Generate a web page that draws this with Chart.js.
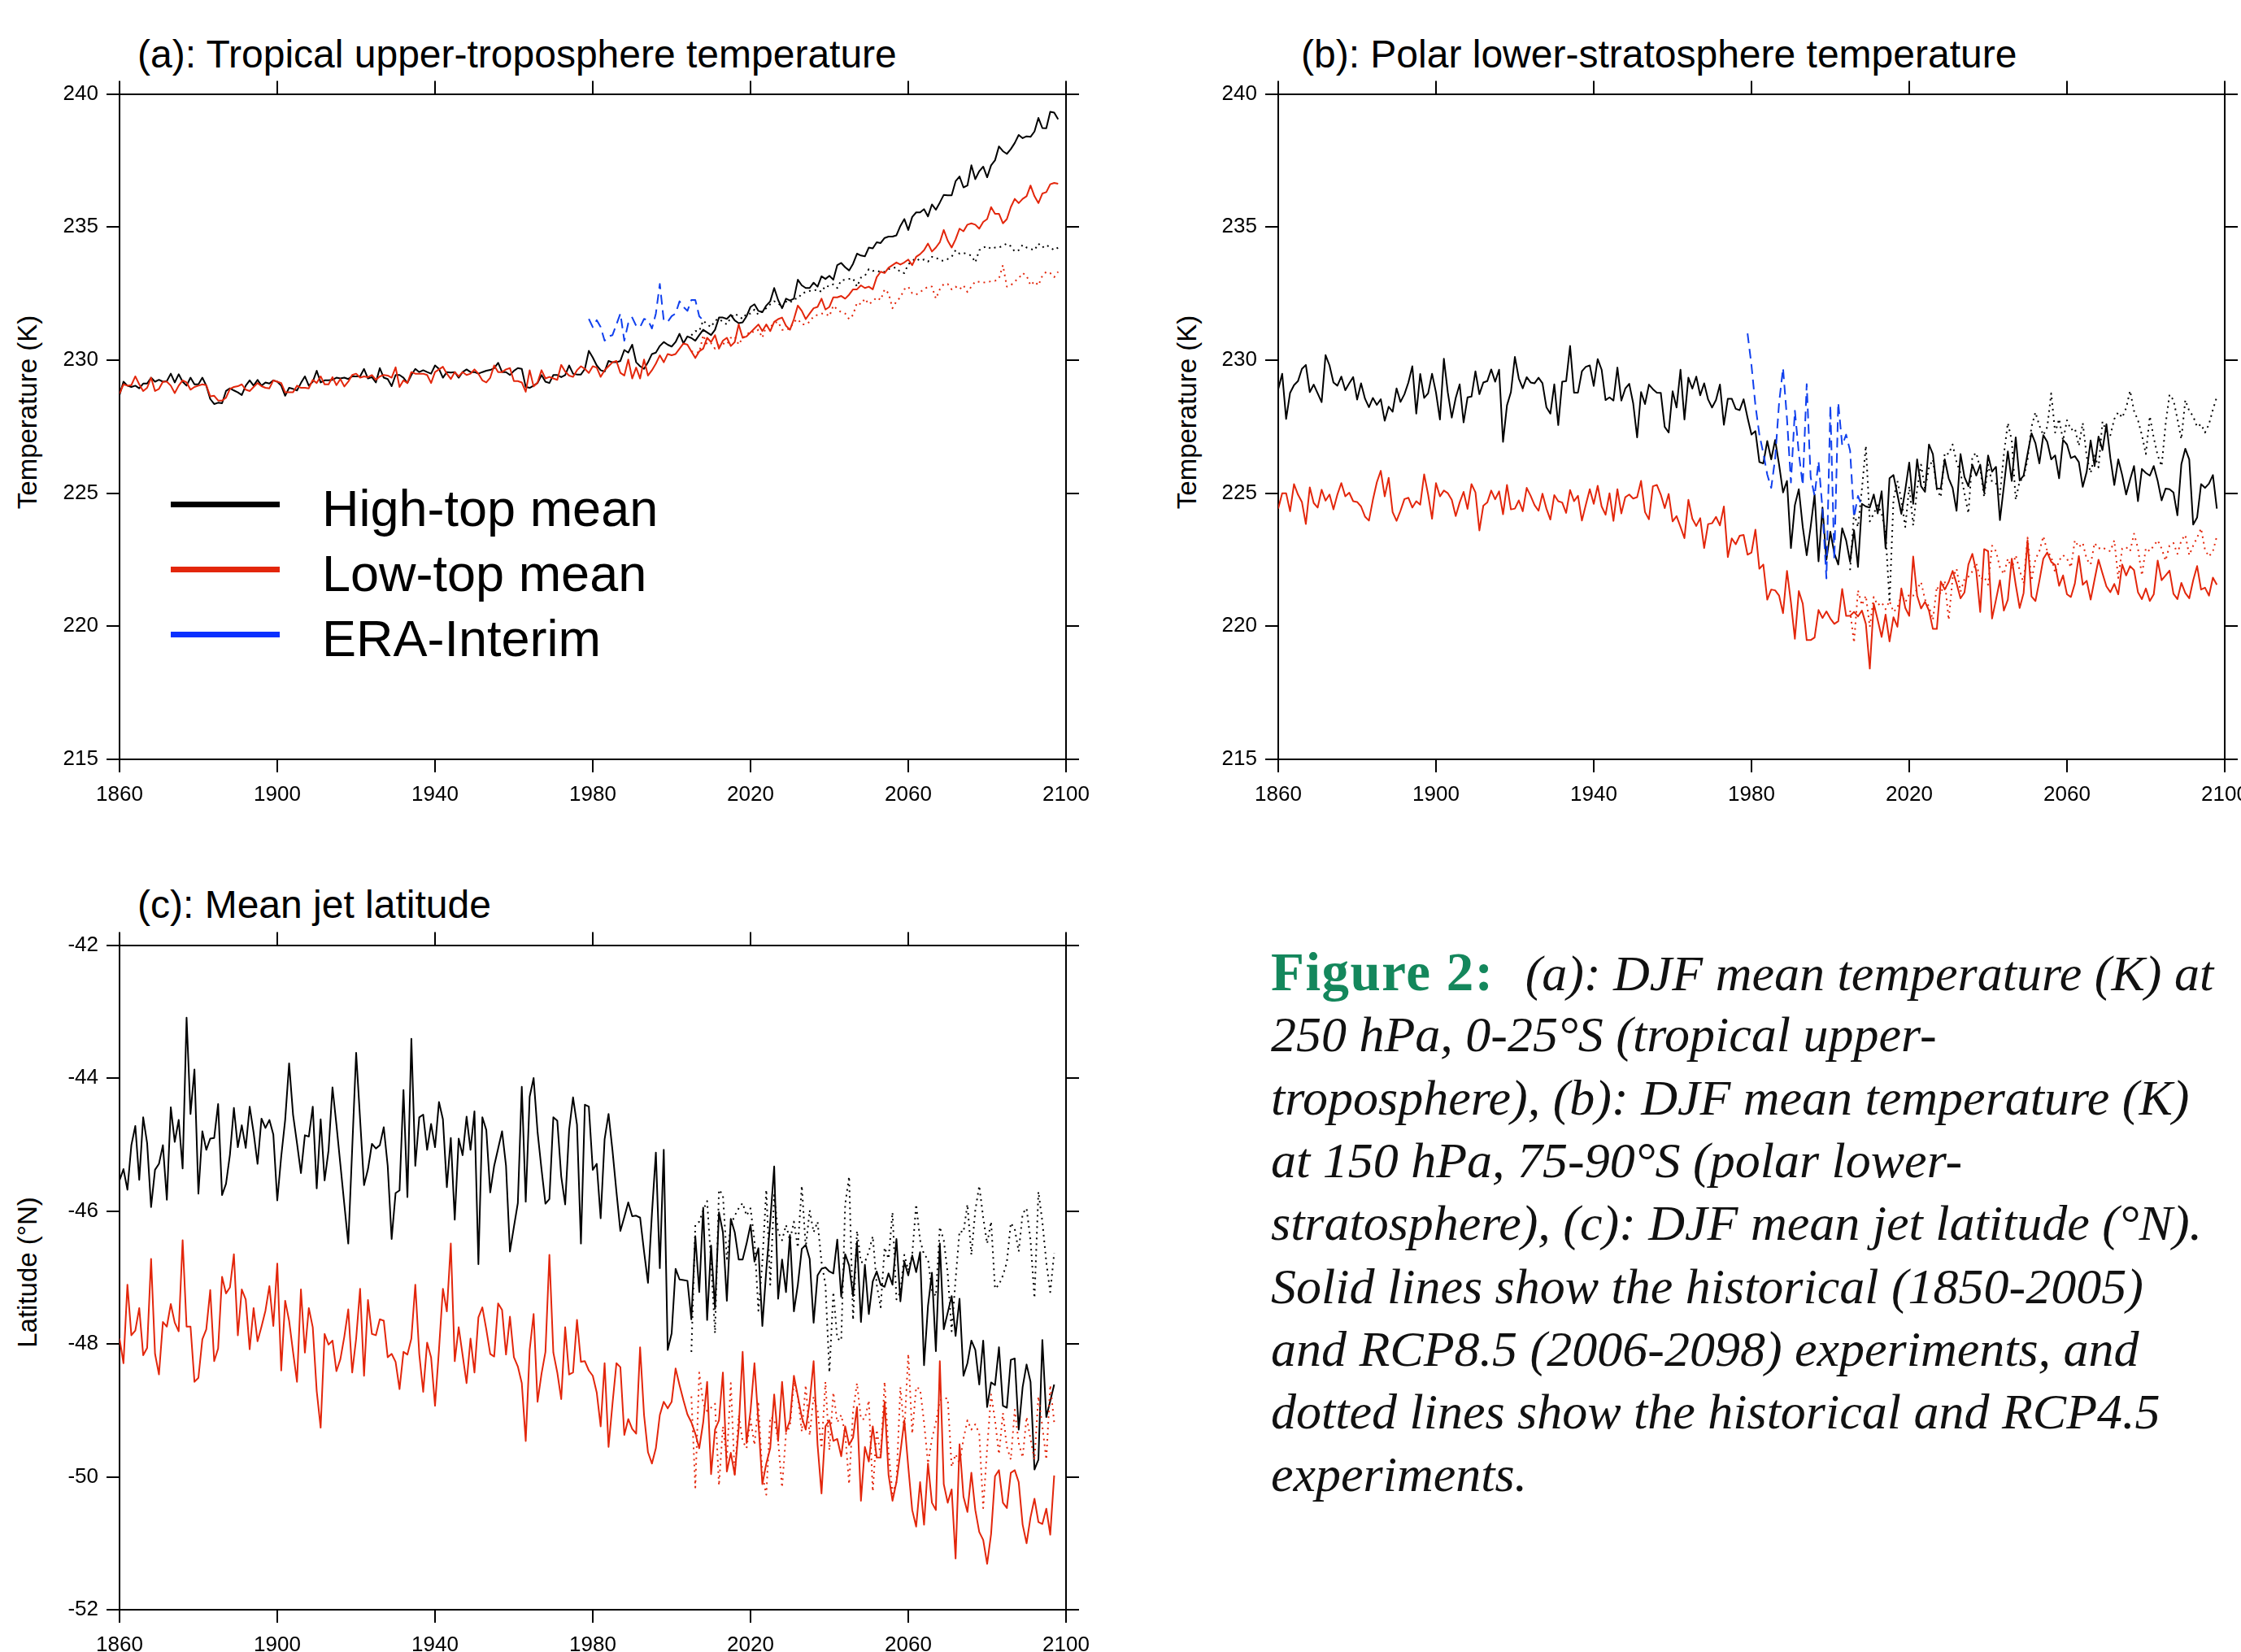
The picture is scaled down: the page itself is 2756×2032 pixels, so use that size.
<!DOCTYPE html>
<html>
<head>
<meta charset="utf-8">
<script src="https://cdn.jsdelivr.net/npm/chart.js@4.4.1/dist/chart.umd.min.js"></script>
<style>
  html, body { margin: 0; padding: 0; background: #fff; }
  body { width: 2756px; height: 2032px; position: relative; overflow: hidden;
         font-family: "Liberation Sans", Arial, Helvetica, sans-serif; color: #000; }
  canvas { position: absolute; }
  .title { position: absolute; font-size: 48px; line-height: 48px; white-space: nowrap; }
  .ytitle { position: absolute; font-size: 33px; line-height: 33px; white-space: nowrap;
            transform: translate(-50%, -50%) rotate(-90deg); }
  .lgbar { position: absolute; height: 7px; width: 134px; }
  .lgtext { position: absolute; font-size: 63px; line-height: 63px; white-space: nowrap; }
  .cap { position: absolute; left: 1563px; font-family: "Liberation Serif", "Times New Roman", serif;
         font-style: italic; font-size: 62px; line-height: 77px; white-space: nowrap; color: #111; }
  .fig { font-style: normal; font-weight: bold; color: #14875c; font-size: 67px; letter-spacing: 1.5px; margin-right: 38px; }
</style>
</head>
<body>

<div class="title" style="left:169px; top:43px">(a): Tropical upper-troposphere temperature</div>
<div class="title" style="left:1600px; top:43px">(b): Polar lower-stratosphere temperature</div>
<div class="title" style="left:169px; top:1089px">(c): Mean jet latitude</div>

<div class="ytitle" style="left:33px; top:507px">Temperature (K)</div>
<div class="ytitle" style="left:1459px; top:507px">Temperature (K)</div>
<div class="ytitle" style="left:33px; top:1565px">Latitude (°N)</div>

<canvas id="chartA" width="1340" height="920" style="left:60px; top:90px"></canvas>
<canvas id="chartB" width="1370" height="920" style="left:1420px; top:90px"></canvas>
<canvas id="chartC" width="1340" height="900" style="left:60px; top:1137px"></canvas>

<div id="legend"></div>
<div id="caption"></div>

<script>
// ---- axes ----
const xRange = [1860, 2100];
const xStep = 40;
const tempRange = [215, 240];
const tempStep = 5;
const latRange = [-52, -42];
const latStep = 2;

// ---- (a) tropical upper troposphere, 250 hPa (K) ----
// solid: historical + RCP8.5, 1860-2098
const highTopA = [
  228.69, 229.19, 229.04, 228.99, 229.04, 228.94, 229.12, 229.12, 229.34, 229.19,
  229.26, 229.19, 229.21, 229.49, 229.16, 229.47, 229.19, 229.04, 229.34, 229.09,
  229.09, 229.34, 229.04, 228.54, 228.35, 228.40, 228.38, 228.84, 228.94, 228.86,
  228.79, 228.69, 229.04, 229.24, 229.04, 229.26, 229.04, 229.16, 229.12, 229.24,
  229.19, 229.04, 228.66, 228.96, 228.92, 228.86, 229.14, 229.39, 229.04, 229.19,
  229.60, 229.16, 229.24, 229.24, 229.26, 229.34, 229.31, 229.34, 229.29, 229.39,
  229.39, 229.39, 229.67, 229.31, 229.36, 229.16, 229.70, 229.34, 229.29, 229.02,
  229.44, 229.44, 229.34, 229.14, 229.44, 229.67, 229.55, 229.62, 229.55, 229.49,
  229.80, 229.67, 229.34, 229.55, 229.53, 229.55, 229.34, 229.55, 229.65, 229.55,
  229.55, 229.49, 229.55, 229.60, 229.63, 229.70, 229.90, 229.55, 229.55, 229.44,
  229.60, 229.70, 229.67, 228.99, 228.96, 229.04, 229.14, 229.44, 229.19, 229.14,
  229.44, 229.44, 229.36, 229.44, 229.80, 229.49, 229.46, 229.46, 229.67, 230.35,
  230.10, 229.80, 229.62, 229.57, 229.97, 229.92, 229.92, 229.97, 230.38, 230.28,
  230.58, 229.92, 229.77, 229.67, 229.92, 230.23, 230.28, 230.53, 230.68, 230.58,
  230.51, 230.68, 230.99, 230.63, 230.89, 230.83, 230.73, 230.94, 231.14, 231.04,
  230.94, 231.14, 231.60, 231.60, 231.55, 231.70, 231.49, 231.39, 231.42, 231.65,
  232.00, 232.10, 231.85, 231.80, 232.05, 232.21, 232.71, 232.26, 231.95, 232.31,
  232.24, 232.31, 233.02, 232.81, 232.71, 232.71, 232.91, 232.76, 233.15, 233.05,
  233.17, 233.02, 233.57, 233.65, 233.49, 233.37, 233.62, 234.00, 233.93, 233.90,
  234.23, 234.20, 234.43, 234.40, 234.59, 234.64, 234.64, 234.69, 235.04, 235.30,
  234.89, 235.38, 235.55, 235.55, 235.67, 235.40, 235.85, 235.65, 235.92, 236.21,
  236.19, 236.19, 236.72, 236.90, 236.49, 236.56, 237.32, 236.80, 237.10, 237.27,
  236.87, 237.32, 237.51, 238.03, 237.85, 237.75, 237.93, 238.16, 238.46, 238.34,
  238.41, 238.39, 238.59, 239.10, 238.72, 238.71, 239.33, 239.30, 239.05
];
const lowTopA = [
  228.74, 229.09, 229.04, 229.06, 229.39, 229.09, 228.84, 228.96, 229.34, 228.84,
  228.92, 229.19, 229.19, 229.04, 228.76, 229.04, 229.24, 229.16, 228.89, 228.99,
  229.04, 229.09, 229.06, 228.64, 228.66, 228.48, 228.48, 228.59, 228.92, 228.99,
  229.02, 229.09, 228.89, 228.84, 228.99, 229.14, 229.02, 228.96, 228.94, 229.24,
  229.19, 229.14, 228.79, 228.79, 228.79, 229.04, 228.96, 228.96, 228.94, 229.26,
  229.14, 229.39, 229.09, 229.09, 229.36, 229.06, 229.29, 229.01, 229.19, 229.44,
  229.49, 229.34, 229.39, 229.36, 229.44, 229.26, 229.39, 229.44, 229.42, 229.34,
  229.73, 228.99, 229.24, 229.14, 229.55, 229.49, 229.49, 229.49, 229.44, 229.14,
  229.55, 229.65, 229.75, 229.49, 229.29, 229.55, 229.39, 229.55, 229.44, 229.49,
  229.65, 229.49, 229.24, 229.16, 229.34, 229.80, 229.55, 229.55, 229.65, 229.70,
  229.21, 229.21, 229.16, 228.81, 229.62, 229.01, 229.16, 229.62, 229.31, 229.37,
  229.31, 229.26, 229.82, 229.57, 229.42, 229.37, 229.62, 229.77, 229.67, 229.52,
  229.77, 229.72, 229.37, 229.62, 229.77, 229.92, 229.97, 229.52, 229.42, 230.02,
  229.31, 229.72, 229.31, 230.02, 229.42, 229.62, 229.87, 230.18, 229.92, 230.23,
  230.18, 230.23, 230.43, 230.63, 230.58, 230.33, 230.08, 230.33, 230.43, 230.84,
  230.68, 230.94, 230.43, 230.73, 230.84, 230.53, 230.68, 231.34, 230.84, 230.89,
  231.04, 231.19, 231.34, 231.09, 231.34, 231.09, 231.44, 231.54, 231.60, 231.29,
  231.14, 231.54, 232.05, 231.85, 231.54, 231.75, 231.95, 232.00, 232.31, 231.90,
  232.00, 232.36, 232.36, 232.41, 232.31, 232.46, 232.66, 232.66, 232.81, 232.71,
  232.76, 232.66, 233.12, 233.32, 233.27, 233.47, 233.57, 233.67, 233.59, 233.67,
  233.78, 233.57, 233.88, 233.98, 234.13, 234.38, 234.08, 234.23, 234.43, 234.89,
  234.49, 234.23, 234.54, 234.94, 234.84, 235.09, 235.14, 235.09, 234.94, 235.19,
  235.30, 235.75, 235.50, 235.50, 235.14, 235.30, 235.75, 236.06, 235.90, 236.06,
  236.16, 236.56, 236.16, 235.90, 236.26, 236.31, 236.61, 236.66, 236.63
];
// dotted: historical + RCP4.5, 2005-2098
const highTopA45 = [
  230.93, 231.09, 231.09, 231.49, 231.34, 231.24, 231.49, 231.55, 231.44, 231.34,
  231.60, 231.75, 231.65, 231.55, 231.75, 231.75, 231.90, 231.70, 231.85, 231.95,
  232.10, 232.21, 232.15, 231.98, 232.20, 232.15, 232.30, 232.31, 232.50, 232.56,
  232.60, 232.61, 232.66, 232.56, 232.80, 232.76, 232.85, 232.71, 233.00, 233.02,
  233.05, 233.07, 232.76, 233.10, 233.17, 233.42, 233.35, 233.37, 233.30, 233.32,
  233.42, 233.47, 233.47, 233.30, 233.27, 233.60, 233.73, 233.83, 233.73, 233.78,
  233.70, 233.88, 233.86, 233.75, 233.73, 233.80, 233.88, 234.13, 234.00, 234.03,
  233.98, 233.93, 233.67, 234.13, 234.23, 234.28, 234.18, 234.23, 234.23, 234.30,
  234.38, 234.28, 234.08, 234.13, 234.33, 234.23, 234.18, 234.13, 234.38, 234.23,
  234.33, 234.23, 234.13, 234.23
];
const lowTopA45 = [
  230.33, 230.31, 230.28, 230.94, 230.58, 230.63, 230.43, 230.58, 230.63, 230.58,
  230.84, 230.89, 230.58, 230.84, 230.94, 231.09, 231.04, 231.14, 230.84, 231.29,
  231.24, 231.39, 231.44, 231.14, 231.14, 231.19, 231.44, 231.54, 231.34, 231.34,
  231.44, 231.65, 231.70, 231.75, 231.75, 231.65, 232.05, 231.90, 231.80, 231.75,
  231.54, 231.70, 232.16, 232.10, 232.31, 232.10, 232.21, 232.36, 232.26, 232.66,
  232.51, 231.95, 232.21, 232.36, 232.66, 232.76, 232.51, 232.46, 232.56, 232.66,
  232.76, 232.76, 232.31, 232.66, 232.86, 232.86, 232.66, 232.76, 232.66, 232.81,
  232.56, 232.76, 232.96, 232.94, 232.91, 232.94, 232.96, 232.98, 233.07, 233.57,
  232.76, 232.81, 232.96, 233.07, 233.27, 233.17, 232.81, 232.96, 232.81, 233.17,
  233.32, 233.27, 233.12, 233.32
];
// ERA-Interim, 1979-2008
const eraA = [
  231.55, 231.24, 231.50, 231.24, 230.73, 230.89, 230.94, 231.34, 231.75, 230.73,
  231.39, 231.60, 231.29, 231.24, 231.55, 231.50, 231.19, 231.75, 232.86, 231.49,
  231.44, 231.65, 231.75, 232.21, 232.00, 231.85, 232.26, 232.26, 231.65, 231.49
];

// ---- (b) polar lower stratosphere, 150 hPa (K) ----
const highTopB = [
  228.91, 229.49, 227.79, 228.77, 229.06, 229.21, 229.67, 229.82, 228.80, 229.08,
  228.75, 228.42, 230.19, 229.80, 229.16, 229.04, 229.38, 228.87, 229.13, 229.36,
  228.52, 229.13, 228.55, 228.23, 228.58, 228.32, 228.53, 227.72, 228.25, 228.06,
  228.94, 228.43, 228.72, 229.16, 229.77, 227.99, 229.48, 228.58, 228.75, 229.49,
  228.78, 227.77, 230.05, 228.78, 227.84, 228.58, 229.09, 227.66, 228.60, 228.63,
  229.58, 228.72, 229.16, 229.21, 229.65, 229.19, 229.64, 226.93, 228.30, 228.80,
  230.12, 229.31, 228.94, 229.36, 229.16, 229.13, 229.34, 229.13, 228.23, 227.99,
  229.09, 227.56, 229.19, 229.21, 230.53, 228.78, 228.78, 229.58, 229.75, 229.80,
  229.03, 230.04, 229.64, 228.50, 228.60, 228.48, 229.72, 228.48, 228.93, 229.11,
  228.38, 227.10, 228.80, 228.35, 229.08, 228.91, 228.78, 228.77, 227.49, 227.28,
  228.83, 228.22, 229.64, 227.77, 229.34, 228.93, 229.38, 228.68, 229.13, 228.52,
  228.22, 228.50, 229.08, 227.57, 228.55, 228.55, 228.17, 228.12, 228.53, 227.84,
  227.20, 227.33, 226.17, 226.12, 226.96, 226.27, 227.00, 226.07, 225.03, 225.46,
  222.94, 224.55, 225.15, 223.73, 222.67, 223.73, 224.95, 222.44, 224.46, 222.50,
  223.55, 222.74, 222.32, 223.68, 223.23, 222.42, 223.61, 222.23, 224.60, 224.50,
  224.46, 224.95, 224.24, 225.07, 222.94, 225.56, 225.68, 224.95, 224.22, 225.13,
  226.15, 224.60, 226.27, 225.26, 225.05, 226.83, 226.47, 225.17, 225.17, 226.27,
  225.56, 225.20, 224.34, 226.47, 225.61, 225.26, 226.07, 225.66, 226.07, 225.03,
  226.42, 225.81, 225.99, 223.99, 225.26, 226.57, 225.46, 227.10, 225.48, 225.66,
  226.47, 227.25, 226.88, 226.12, 227.18, 226.93, 226.27, 226.42, 225.56, 227.00,
  226.83, 226.32, 226.39, 226.17, 225.24, 225.81, 226.98, 226.02, 227.13, 226.62,
  227.59, 226.32, 225.31, 226.27, 225.68, 224.95, 225.51, 226.02, 224.70, 225.91,
  225.76, 225.66, 226.02, 225.46, 224.73, 225.17, 225.15, 225.03, 224.17, 226.09,
  226.67, 226.27, 223.82, 224.09, 225.34, 225.20, 225.36, 225.68, 224.42
];
const lowTopB = [
  224.42, 225.00, 225.00, 224.32, 225.34, 224.95, 224.67, 223.84, 225.22, 224.63,
  224.46, 225.13, 224.72, 224.95, 224.39, 224.95, 225.38, 224.88, 225.02, 224.70,
  224.67, 224.50, 224.12, 223.97, 224.75, 225.41, 225.84, 224.88, 225.58, 224.29,
  223.96, 224.34, 224.78, 224.83, 224.46, 224.70, 224.57, 225.71, 224.95, 224.04,
  225.38, 224.88, 225.10, 225.00, 224.75, 224.14, 224.65, 225.05, 224.41, 225.34,
  225.03, 223.60, 224.53, 224.65, 225.10, 224.77, 225.07, 224.21, 225.31, 224.39,
  224.42, 224.73, 224.32, 225.20, 224.90, 224.55, 224.34, 224.98, 224.42, 224.01,
  224.93, 224.70, 224.65, 224.26, 225.12, 224.70, 224.90, 223.97, 224.57, 225.15,
  224.60, 225.28, 224.50, 224.19, 225.00, 223.96, 225.15, 224.24, 224.85, 224.95,
  224.80, 224.85, 225.46, 224.29, 224.02, 225.26, 225.31, 224.95, 224.44, 224.97,
  223.94, 224.14, 223.73, 223.31, 224.75, 224.04, 223.77, 224.06, 222.94, 223.84,
  223.87, 224.11, 223.79, 224.50, 222.60, 223.30, 223.08, 223.40, 223.43, 222.69,
  222.77, 223.63, 222.16, 222.32, 221.00, 221.38, 221.35, 221.15, 220.49, 222.08,
  220.90, 219.53, 221.32, 220.85, 219.48, 219.48, 219.58, 220.61, 220.31, 220.56,
  220.29, 220.09, 220.19, 221.40, 220.39, 220.39, 220.54, 220.37, 220.59, 220.09,
  218.41, 220.85, 220.24, 219.60, 220.44, 219.43, 220.34, 219.98, 221.42, 220.69,
  220.39, 222.62, 221.15, 220.67, 220.92, 220.59, 219.90, 219.90, 221.68, 221.38,
  221.66, 222.08, 221.61, 221.05, 221.27, 222.32, 222.72, 222.06, 220.54, 222.90,
  222.82, 220.29, 221.00, 221.73, 220.59, 221.00, 222.54, 221.56, 220.69, 221.25,
  223.23, 221.12, 220.95, 221.71, 222.54, 222.77, 222.42, 222.30, 221.52, 221.91,
  221.20, 221.10, 221.61, 222.64, 221.56, 221.71, 221.00, 221.76, 222.50, 221.99,
  221.50, 221.28, 221.59, 221.20, 222.32, 221.91, 222.26, 222.11, 221.28, 221.02,
  221.42, 220.95, 221.20, 222.47, 221.73, 221.91, 222.09, 221.22, 221.02, 221.63,
  221.25, 221.05, 221.73, 222.26, 221.38, 221.45, 221.15, 221.83, 221.56
];
const highTopB45 = [
  222.11, 224.24, 223.73, 225.15, 226.78, 223.94, 224.24, 224.55, 224.24, 223.53,
  220.90, 224.75, 225.46, 224.75, 223.73, 225.26, 223.79, 225.15, 226.07, 225.15,
  225.97, 226.27, 225.15, 224.85, 226.52, 226.47, 226.83, 226.17, 225.76, 225.00,
  224.24, 226.37, 226.52, 225.91, 224.85, 226.07, 225.41, 225.36, 224.95, 226.47,
  227.64, 226.98, 224.75, 225.46, 225.56, 226.27, 227.49, 228.04, 227.54, 227.18,
  227.49, 228.75, 227.28, 227.79, 226.98, 227.74, 227.38, 227.44, 226.78, 227.64,
  226.37, 225.76, 226.42, 225.97, 227.69, 227.33, 227.18, 227.79, 228.04, 227.84,
  228.20, 228.85, 228.09, 227.74, 227.18, 226.47, 227.89, 227.08, 226.42, 226.02,
  227.59, 228.70, 228.50, 227.79, 227.03, 228.50, 228.09, 227.89, 227.49, 227.59,
  227.28, 227.59, 228.14, 228.62
];
const lowTopB45 = [
  220.59, 219.38, 221.35, 220.79, 221.15, 219.98, 221.10, 220.79, 220.90, 220.64,
  220.95, 220.54, 220.69, 221.20, 220.90, 221.20, 221.15, 221.40, 221.66, 221.00,
  220.74, 220.24, 221.50, 221.20, 221.71, 220.24, 221.81, 222.16, 221.30, 221.76,
  221.86, 222.06, 222.37, 221.76, 221.86, 221.56, 223.03, 222.82, 222.21, 221.96,
  222.54, 222.16, 222.67, 222.11, 221.61, 223.33, 221.71, 222.52, 222.82, 223.38,
  222.82, 222.62, 222.01, 222.47, 222.67, 222.54, 222.21, 223.23, 222.97, 223.13,
  222.52, 222.32, 223.13, 222.92, 222.97, 222.87, 222.82, 223.23, 221.81, 222.92,
  222.97, 222.82, 223.48, 222.92, 221.91, 222.94, 222.82, 223.03, 223.23, 222.92,
  222.47, 223.03, 223.13, 222.72, 223.23, 223.43, 222.67, 223.03, 223.33, 223.68,
  222.87, 222.62, 222.82, 223.38
];
const eraB = [
  231.0, 229.8, 228.3, 227.2, 226.5, 225.7, 225.2, 226.3, 228.4, 229.7,
  227.8, 225.4, 228.1, 226.5, 225.3, 229.1, 225.6, 224.9, 226.2, 224.4,
  221.8, 228.3, 222.5, 228.4, 226.8, 227.2, 226.6, 224.1, 224.9, 224.5
];

// ---- (c) mean jet latitude (°N), 1860-2097 ----
const highTopC = [
  -45.54, -45.37, -45.68, -45.01, -44.72, -45.53, -44.59, -44.98, -45.94, -45.38,
  -45.29, -45.01, -45.83, -44.44, -44.96, -44.63, -45.36, -43.09, -44.54, -43.87,
  -45.74, -44.80, -45.08, -44.91, -44.90, -44.39, -45.76, -45.59, -45.15, -44.45,
  -45.04, -44.71, -45.05, -44.43, -44.82, -45.29, -44.61, -44.75, -44.63, -44.85,
  -45.84, -45.18, -44.63, -43.78, -44.55, -44.98, -45.43, -44.86, -44.88, -44.43,
  -45.66, -44.62, -45.54, -45.09, -44.14, -44.70, -45.30, -45.90, -46.49, -45.06,
  -43.62, -44.62, -45.61, -45.37, -44.99, -45.06, -45.01, -44.74, -45.32, -46.42,
  -45.73, -45.69, -44.18, -45.79, -43.41, -45.32, -44.59, -44.55, -45.08, -44.69,
  -45.04, -44.36, -44.62, -45.64, -44.90, -46.13, -44.91, -45.16, -44.58, -45.08,
  -44.50, -46.80, -44.59, -44.78, -45.72, -45.32, -45.06, -44.80, -45.32, -46.61,
  -46.24, -45.88, -44.13, -45.86, -44.28, -44.00, -44.81, -45.37, -45.89, -45.82,
  -44.59, -44.64, -45.48, -45.90, -44.78, -44.29, -44.70, -46.49, -44.40, -44.43,
  -45.38, -45.29, -46.11, -44.92, -44.54, -45.09, -45.71, -46.30, -46.09, -45.87,
  -46.08, -46.07, -46.10, -46.61, -47.08, -46.04, -45.12, -46.86, -45.08, -48.09,
  -47.84, -46.87, -47.03, -47.04, -47.05, -47.63, -46.38, -47.22, -45.95, -47.64,
  -46.52, -47.47, -46.02, -46.32, -47.35, -46.12, -46.32, -46.73, -46.73, -46.49,
  -46.21, -46.76, -46.56, -47.73, -46.89, -46.16, -45.33, -47.32, -46.73, -47.22,
  -46.36, -47.51, -47.11, -46.57, -46.51, -46.72, -47.68, -46.97, -46.87, -46.85,
  -46.91, -46.94, -46.43, -47.29, -46.65, -46.82, -47.28, -46.46, -47.67, -46.81,
  -47.55, -47.06, -46.91, -47.11, -47.14, -46.94, -47.11, -46.42, -47.36, -46.76,
  -46.97, -46.67, -46.92, -46.62, -48.32, -47.43, -46.93, -48.11, -46.49, -47.78,
  -47.53, -47.28, -47.88, -47.32, -48.48, -48.29, -47.95, -48.09, -48.61, -47.95,
  -48.95, -48.58, -48.62, -48.05, -48.93, -48.96, -48.24, -48.22, -49.29, -48.65,
  -48.31, -48.57, -49.89, -49.74, -47.94, -49.10, -48.86, -48.61
];
const lowTopC = [
  -47.92, -48.29, -47.11, -47.87, -47.80, -47.46, -48.17, -48.06, -46.72, -48.15,
  -48.46, -47.67, -47.74, -47.40, -47.68, -47.81, -46.44, -47.74, -47.74, -48.57,
  -48.51, -47.93, -47.78, -47.19, -48.26, -48.07, -46.99, -47.24, -47.15, -46.65,
  -47.87, -47.18, -47.33, -48.08, -47.46, -47.96, -47.74, -47.50, -47.13, -47.73,
  -46.79, -48.40, -47.35, -47.65, -48.12, -48.57, -47.18, -48.13, -47.46, -47.75,
  -48.71, -49.26, -47.85, -48.01, -47.95, -48.41, -48.23, -47.89, -47.48, -48.43,
  -47.92, -47.17, -48.48, -47.34, -47.85, -47.87, -47.63, -47.65, -48.20, -48.15,
  -48.27, -48.68, -48.12, -48.16, -47.92, -47.11, -48.15, -48.72, -47.98, -48.20,
  -48.93, -48.09, -47.17, -47.51, -46.49, -48.26, -47.75, -48.17, -48.59, -47.92,
  -48.43, -47.60, -47.45, -47.78, -48.15, -48.19, -47.39, -47.49, -48.16, -47.59,
  -48.20, -48.34, -48.59, -49.46, -48.09, -47.55, -48.87, -48.45, -48.12, -46.66,
  -48.13, -48.43, -48.83, -47.75, -48.46, -48.43, -47.64, -48.27, -48.26, -48.40,
  -48.48, -48.73, -49.24, -48.29, -49.55, -48.90, -48.29, -48.35, -49.37, -49.13,
  -49.28, -49.35, -48.05, -49.07, -49.63, -49.80, -49.57, -49.07, -48.87, -48.97,
  -48.87, -48.37, -48.62, -48.85, -49.06, -49.18, -49.35, -49.57, -49.18, -48.57,
  -49.96, -49.29, -49.15, -48.43, -49.92, -49.64, -49.97, -49.27, -48.12, -49.49,
  -49.01, -48.29, -49.18, -50.11, -49.80, -49.57, -48.76, -49.46, -48.57, -49.32,
  -49.15, -48.48, -48.79, -49.10, -49.29, -48.87, -48.26, -49.52, -50.25, -49.24,
  -49.15, -49.46, -49.43, -49.69, -49.24, -49.52, -49.41, -48.95, -50.36, -49.55,
  -49.77, -49.24, -49.71, -49.71, -48.87, -49.97, -50.36, -50.08, -49.63, -49.15,
  -49.85, -50.50, -50.75, -50.08, -50.72, -49.80, -50.39, -50.50, -48.26, -50.11,
  -50.39, -50.19, -51.23, -49.51, -50.30, -50.53, -49.94, -50.50, -50.83, -50.95,
  -51.31, -50.86, -49.99, -49.90, -50.39, -50.47, -49.94, -49.90, -50.08, -50.72,
  -51.00, -50.61, -50.33, -50.68, -50.71, -50.48, -50.87, -49.98
];
// dotted, 2005-2097
const highTopC45 = [
  -48.12, -46.21, -46.16, -45.99, -45.85, -46.77, -47.84, -45.68, -45.76, -46.72,
  -46.21, -46.07, -45.96, -45.88, -46.07, -45.96, -46.44, -47.50, -46.77, -45.68,
  -47.11, -45.76, -46.32, -46.44, -46.21, -46.44, -46.16, -46.55, -45.62, -46.55,
  -45.99, -46.32, -46.16, -46.77, -47.11, -48.43, -47.22, -47.92, -47.95, -45.90,
  -45.48, -47.64, -46.30, -46.77, -46.77, -46.61, -46.38, -47.11, -47.45, -46.55,
  -46.72, -46.02, -47.33, -47.22, -46.66, -46.89, -46.66, -45.90, -46.44, -46.66,
  -46.72, -47.19, -47.28, -46.24, -46.44, -46.94, -47.81, -47.03, -46.30, -46.32,
  -45.90, -46.66, -45.99, -45.62, -46.10, -46.49, -46.16, -47.17, -47.11, -46.97,
  -46.77, -46.18, -46.27, -46.61, -46.04, -45.96, -46.44, -47.31, -45.71, -46.16,
  -46.77, -47.22, -46.63
];
const lowTopC45 = [
  -48.79, -50.16, -48.43, -48.90, -49.01, -48.96, -48.90, -50.13, -49.24, -49.74,
  -48.59, -49.97, -49.07, -49.46, -49.57, -49.13, -49.52, -48.90, -49.97, -50.27,
  -49.10, -49.13, -49.46, -50.16, -49.35, -49.24, -48.57, -48.79, -49.32, -48.62,
  -49.38, -48.79, -49.01, -49.57, -48.57, -49.60, -48.73, -49.18, -49.07, -49.35,
  -50.11, -49.01, -48.59, -49.13, -49.13, -48.85, -50.22, -49.29, -49.69, -48.57,
  -49.63, -50.25, -50.08, -48.65, -49.32, -48.15, -49.35, -48.65, -48.68, -49.18,
  -49.80, -49.43, -49.18, -48.85, -48.82, -48.82, -49.85, -49.66, -49.80, -49.43,
  -49.15, -49.29, -49.21, -49.35, -50.47, -49.57, -48.76, -49.15, -49.66, -49.04,
  -49.55, -49.74, -48.99, -49.49, -49.71, -49.10, -49.43, -49.74, -48.79, -49.24,
  -49.74, -48.62, -49.18
];

const histStart = 1860;
const rcpStart = 2005;
const eraStart = 1979;

const BLACK = '#000000';
const RED = '#e3260b';
const BLUE = '#1040ee';
const FONT = '"Liberation Sans", Arial, Helvetica, sans-serif';

const legendItems = [
  { label: 'High-top mean', color: BLACK },
  { label: 'Low-top mean', color: RED },
  { label: 'ERA-Interim', color: '#0a30ff' }
];

const captionLines = [
  '(a): DJF mean temperature (K) at',
  '250 hPa, 0-25°S (tropical upper-',
  'troposphere), (b): DJF mean temperature (K)',
  'at 150 hPa, 75-90°S (polar lower-',
  'stratosphere), (c): DJF mean jet latitude (°N).',
  'Solid lines show the historical (1850-2005)',
  'and RCP8.5 (2006-2098) experiments, and',
  'dotted lines show the historical and RCP4.5',
  'experiments.'
];

function pts(start, vals) {
  return vals.map((v, i) => ({ x: start + i, y: v }));
}

function line(start, vals, color, style) {
  return {
    data: pts(start, vals),
    borderColor: color,
    borderWidth: 2,
    borderDash: style === 'dot' ? [2, 5] : style === 'dash' ? [12, 7] : [],
    borderJoinStyle: 'round',
    pointRadius: 0,
    tension: 0,
    fill: false
  };
}

// one side of the frame; all four sides get outward tick marks
function edge(position, range, step, size, labelled) {
  const vertical = position === 'left' || position === 'right';
  return {
    type: 'linear', position, min: range[0], max: range[1],
    ticks: {
      display: labelled, stepSize: step, padding: vertical ? 10 : 12, color: '#000',
      maxRotation: 0, autoSkip: false,
      font: { family: FONT, size: 26 },
      callback: v => String(v)
    },
    grid: { drawOnChartArea: false, drawTicks: true, tickLength: 16, color: '#000', lineWidth: 2 },
    border: { display: true, color: '#000', width: 2 },
    afterFit: s => { if (vertical) s.width = size; else s.height = size; }
  };
}

function panel(id, datasets, yRange, yStep, box) {
  new Chart(document.getElementById(id), {
    type: 'line',
    data: { datasets },
    options: {
      responsive: false, animation: false, devicePixelRatio: 1, events: [],
      layout: { padding: 0 },
      plugins: { legend: { display: false }, tooltip: { enabled: false } },
      scales: {
        x: edge('bottom', xRange, xStep, box.bottom, true),
        x2: edge('top', xRange, xStep, box.top, false),
        y: edge('left', yRange, yStep, box.left, true),
        y2: edge('right', yRange, yStep, box.right, false)
      }
    }
  });
}

panel('chartA', [
  line(eraStart, eraA, BLUE, 'dash'),
  line(histStart, lowTopA, RED, 'solid'),
  line(rcpStart, lowTopA45, RED, 'dot'),
  line(histStart, highTopA, BLACK, 'solid'),
  line(rcpStart, highTopA45, BLACK, 'dot')
], tempRange, tempStep, { left: 87, right: 89, top: 22, bottom: 76 });

panel('chartB', [
  line(eraStart, eraB, BLUE, 'dash'),
  line(histStart, lowTopB, RED, 'solid'),
  line(rcpStart, lowTopB45, RED, 'dot'),
  line(histStart, highTopB, BLACK, 'solid'),
  line(rcpStart, highTopB45, BLACK, 'dot')
], tempRange, tempStep, { left: 152, right: 54, top: 22, bottom: 76 });

panel('chartC', [
  line(histStart, lowTopC, RED, 'solid'),
  line(rcpStart, lowTopC45, RED, 'dot'),
  line(histStart, highTopC, BLACK, 'solid'),
  line(rcpStart, highTopC45, BLACK, 'dot')
], latRange, latStep, { left: 87, right: 89, top: 22, bottom: 57 });

// legend inside panel (a)
const legend = document.getElementById('legend');
legendItems.forEach((it, i) => {
  const cy = 620 + i * 80;
  const bar = document.createElement('div');
  bar.className = 'lgbar';
  bar.style.cssText = `left:210px; top:${cy - 3.5}px; background:${it.color}`;
  const txt = document.createElement('div');
  txt.className = 'lgtext';
  txt.style.cssText = `left:396px; top:${cy + 5 - 31.5}px`;
  txt.textContent = it.label;
  legend.appendChild(bar);
  legend.appendChild(txt);
});

// caption
const cap = document.getElementById('caption');
captionLines.forEach((t, i) => {
  const d = document.createElement('div');
  d.className = 'cap';
  d.style.top = (1157 + i * 77.3) + 'px';
  if (i === 0) {
    const f = document.createElement('span');
    f.className = 'fig';
    f.textContent = 'Figure 2:';
    d.appendChild(f);
  }
  d.appendChild(document.createTextNode(t));
  cap.appendChild(d);
});
</script>
</body>
</html>
